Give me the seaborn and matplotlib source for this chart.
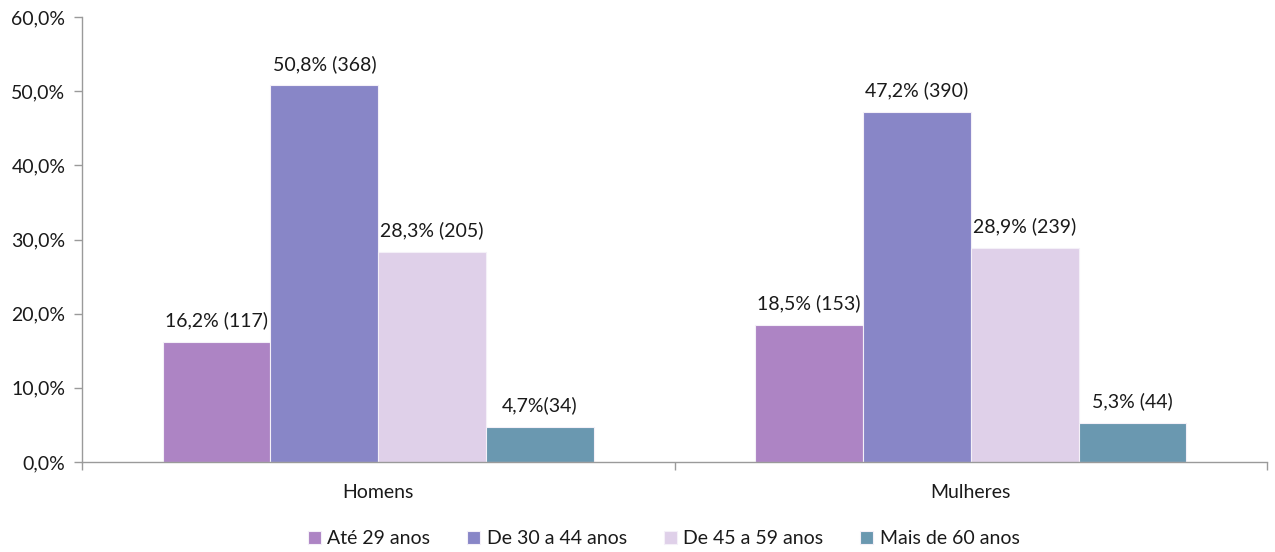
import matplotlib
matplotlib.use("Agg")
import matplotlib.pyplot as plt
from matplotlib.ticker import FuncFormatter, FixedLocator
import seaborn as sns
import pandas as pd

# Age-group share by sex, with absolute counts
groups = ["Homens", "Mulheres"]
age_bands = ["Até 29 anos", "De 30 a 44 anos", "De 45 a 59 anos", "Mais de 60 anos"]
pct_homens = [16.2, 50.8, 28.3, 4.7]
pct_mulheres = [18.5, 47.2, 28.9, 5.3]
n_homens = [117, 368, 205, 34]
n_mulheres = [153, 390, 239, 44]
colors = ["#AD84C4", "#8886C7", "#DFD0E9", "#6A98B0"]

rows = []
for g, pcts, ns in [("Homens", pct_homens, n_homens), ("Mulheres", pct_mulheres, n_mulheres)]:
    for band, p, n in zip(age_bands, pcts, ns):
        rows.append({"grupo": g, "faixa": band, "pct": p, "n": n})
df = pd.DataFrame(rows)

sns.set_theme(style="white")
plt.rcParams["font.family"] = ["Lato", "DejaVu Sans"]
FS = 14

fig = plt.figure(figsize=(12.75, 5.52), dpi=100)
ax = fig.add_axes([82 / 1275, 1 - 462 / 552, (1267 - 82) / 1275, (462 - 17) / 552])

sns.barplot(data=df, x="grupo", y="pct", hue="faixa", order=groups,
            hue_order=age_bands, palette=colors, width=0.728, gap=0,
            edgecolor="#F4F0F8", linewidth=0.8, saturation=1, ax=ax,
            legend=True)

def fmt_label(p, n, band, g):
    pct_txt = f"{p:.1f}%".replace(".", ",")
    # the oldest male band is written without a space before the count
    sep = "" if (g == "Homens" and band == "Mais de 60 anos") else " "
    return f"{pct_txt}{sep}({n})"

for container, band in zip(ax.containers, age_bands):
    sub = df[df["faixa"] == band].set_index("grupo").loc[groups]
    labels = [fmt_label(r.pct, r.n, band, g) for g, r in sub.iterrows()]
    ax.bar_label(container, labels=labels, padding=9, fontsize=FS, color="#1a1a1a")

ax.set_ylim(0, 60)
ax.set_xlim(-0.5, 1.5)
ax.yaxis.set_major_locator(FixedLocator([0, 10, 20, 30, 40, 50, 60]))
ax.yaxis.set_major_formatter(FuncFormatter(lambda v, _: f"{v:.1f}%".replace(".", ",")))
ax.set_xlabel("")
ax.set_ylabel("")

for side in ["top", "right"]:
    ax.spines[side].set_visible(False)
for side in ["left", "bottom"]:
    ax.spines[side].set_color("#9a9a9a")
    ax.spines[side].set_linewidth(1.0)

ax.tick_params(axis="y", which="major", left=True, length=6, width=1.0,
               color="#9a9a9a", labelsize=FS, labelcolor="#1a1a1a", pad=6)
ax.tick_params(axis="x", which="major", bottom=False, labelsize=FS,
               labelcolor="#1a1a1a", pad=10)
ax.set_xticks([-0.5, 0.5, 1.5], minor=True)
ax.tick_params(axis="x", which="minor", bottom=True, length=6, width=1.0,
               color="#9a9a9a", direction="out")

leg = ax.legend(loc="lower center", bbox_to_anchor=(0.491, -0.23), ncol=4,
                frameon=False, fontsize=FS, handlelength=0.65, handleheight=0.65,
                handletextpad=0.35, columnspacing=1.9)
for t in leg.get_texts():
    t.set_color("#1a1a1a")

fig.savefig("out.png", dpi=100, facecolor="white")
